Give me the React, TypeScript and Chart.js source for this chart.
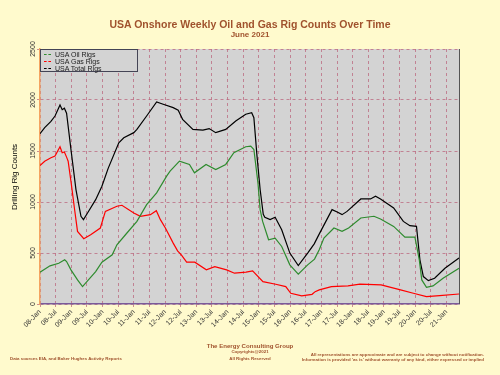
import React, { useEffect, useRef } from "react";
import { Chart, registerables } from "chart.js";
Chart.register(...registerables);

const xTickLabels = [
  "08-Jan", "08-Jul", "09-Jan", "09-Jul", "10-Jan", "10-Jul", "11-Jan", "11-Jul",
  "12-Jan", "12-Jul", "13-Jan", "13-Jul", "14-Jan", "14-Jul", "15-Jan", "15-Jul",
  "16-Jan", "16-Jul", "17-Jan", "17-Jul", "18-Jan", "18-Jul", "19-Jan", "19-Jul",
  "20-Jan", "20-Jul", "21-Jan",
];
const yTickValues = [0, 500, 1000, 1500, 2000, 2500];

const totalYears = [
  2008.0, 2008.15, 2008.35, 2008.48, 2008.64, 2008.71, 2008.78, 2008.85, 2008.99, 2009.15,
  2009.31, 2009.39, 2009.52, 2009.78, 2009.98, 2010.18, 2010.52, 2010.68, 2011.0, 2011.1,
  2011.41, 2011.73, 2011.94, 2012.26, 2012.42, 2012.56, 2012.89, 2013.21, 2013.41, 2013.62,
  2013.94, 2014.26, 2014.58, 2014.77, 2014.84, 2014.94, 2015.04, 2015.14, 2015.19, 2015.36,
  2015.52, 2015.73, 2015.99, 2016.26, 2016.56, 2016.77, 2016.92, 2017.34, 2017.52, 2017.66,
  2017.82, 2018.26, 2018.57, 2018.73, 2018.89, 2019.31, 2019.62, 2019.83, 2020.04, 2020.15,
  2020.26, 2020.42, 2020.62, 2020.95, 2021.4,
];
const totalRigs = [
  1670, 1730, 1790, 1843, 1951, 1905, 1920, 1870, 1515, 1122,
  860, 827, 892, 1023, 1154, 1330, 1581, 1630, 1680, 1712,
  1843, 1981, 1958, 1925, 1900, 1810, 1712, 1705, 1720, 1680,
  1712, 1794, 1860, 1876, 1827, 1450, 1122, 880, 850, 827,
  850, 728, 499, 377, 499, 590, 680, 925, 900, 876,
  908, 1030, 1030, 1056, 1030, 941, 810, 768, 761, 433,
  269, 229, 253, 351, 450,
];

const gasYears = [
  2008.0, 2008.15, 2008.35, 2008.48, 2008.64, 2008.71, 2008.78, 2008.85, 2008.9, 2009.0,
  2009.1, 2009.2, 2009.4, 2009.62, 2009.93, 2010.09, 2010.46, 2010.62, 2011.0, 2011.21,
  2011.53, 2011.72, 2011.85, 2012.01, 2012.26, 2012.4, 2012.52, 2012.69, 2012.95, 2013.32,
  2013.59, 2013.97, 2014.22, 2014.59, 2014.8, 2015.13, 2015.54, 2015.86, 2016.02, 2016.37,
  2016.7, 2016.8, 2016.93, 2017.32, 2017.85, 2018.23, 2018.91, 2019.53, 2019.94, 2020.36,
  2020.78, 2021.4,
];
const gasRigs = [
  1358, 1400, 1434, 1450, 1542, 1483, 1490, 1440, 1400, 1180,
  941, 712, 640, 679, 745, 908, 958, 968, 892, 860,
  876, 915, 827, 745, 597, 521, 482, 410, 410, 335,
  367, 335, 302, 312, 325, 219, 194, 171, 105, 79,
  95, 121, 138, 171, 177, 194, 187, 138, 105, 72,
  82, 98,
];

const oilYears = [
  2008.0, 2008.32, 2008.6, 2008.79, 2008.85, 2008.99, 2009.2, 2009.36, 2009.52, 2009.78,
  2009.98, 2010.31, 2010.46, 2010.78, 2011.1, 2011.41, 2011.73, 2012.05, 2012.16, 2012.46,
  2012.78, 2012.94, 2013.31, 2013.62, 2013.94, 2014.2, 2014.58, 2014.74, 2014.84, 2014.97,
  2015.04, 2015.12, 2015.31, 2015.52, 2015.73, 2015.99, 2016.26, 2016.56, 2016.78, 2016.93,
  2017.08, 2017.4, 2017.66, 2017.87, 2018.26, 2018.68, 2018.89, 2019.31, 2019.67, 2019.99,
  2020.13, 2020.21, 2020.36, 2020.57, 2020.89, 2021.4,
];
const oilRigs = [
  312, 374, 400, 433, 416, 335, 236, 171, 226, 318,
  410, 482, 581, 696, 810, 974, 1089, 1253, 1302, 1400,
  1368, 1286, 1368, 1319, 1368, 1483, 1542, 1548, 1515, 1188,
  925, 810, 630, 646, 564, 384, 292, 384, 440, 531,
  646, 745, 712, 745, 843, 860, 833, 761, 656, 656,
  433, 236, 164, 177, 253, 351,
];

const seriesNames = ["USA Oil Rigs", "USA Gas Rigs", "USA Total Rigs"];
const seriesColors = ["#2e8b2e", "#ff0000", "#000000"];

const BROWN = "#a0522d";
const GRID = "rgba(185,95,120,0.7)";

const frame = {
  id: "frame",
  beforeDraw(chart: any) {
    const { ctx, chartArea: a } = chart;
    ctx.save();
    ctx.fillStyle = "#d3d3d3";
    ctx.fillRect(a.left, a.top, a.right - a.left, a.bottom - a.top);
    ctx.restore();
  },
  afterDraw(chart: any) {
    const { ctx, chartArea: a } = chart;
    const ys = chart.scales.y;
    ctx.save();
    ctx.strokeStyle = "#555";
    ctx.lineWidth = 1;
    ctx.beginPath();
    ctx.moveTo(a.right + 0.5, a.top);
    ctx.lineTo(a.right + 0.5, a.bottom);
    ctx.stroke();
    ctx.fillStyle = "#333";
    ctx.font = "7px Arial";
    ctx.textAlign = "center";
    ctx.textBaseline = "middle";
    ys.ticks.forEach((t: any) => {
      const py = ys.getPixelForValue(t.value);
      ctx.save();
      ctx.translate(a.left - 7, py);
      ctx.rotate(-Math.PI / 2);
      ctx.fillText(String(t.value), 0, 0);
      ctx.restore();
    });
    ctx.restore();
  },
};

function toPoints(xs: number[], ys: number[]) {
  return xs.map((x, i) => ({ x, y: ys[i] }));
}

export default function App() {
  const ref = useRef<HTMLCanvasElement>(null);
  useEffect(() => {
    if (!ref.current) return;
    const tickValues = xTickLabels.map((_, i) => 2008 + i * 0.5);
    const chart = new Chart(ref.current, {
      type: "line",
      data: {
        datasets: [
          { label: seriesNames[0], data: toPoints(oilYears, oilRigs), borderColor: seriesColors[0] },
          { label: seriesNames[1], data: toPoints(gasYears, gasRigs), borderColor: seriesColors[1] },
          { label: seriesNames[2], data: toPoints(totalYears, totalRigs), borderColor: seriesColors[2] },
        ],
      },
      options: {
        animation: false,
        responsive: false,
        devicePixelRatio: 1,
        layout: { padding: { left: 0, top: 49, right: 41, bottom: 0 } },
        elements: { point: { radius: 0 }, line: { borderWidth: 1.2, tension: 0 } },
        plugins: { legend: { display: false }, tooltip: { enabled: false }, title: { display: false } },
        scales: {
          x: {
            type: "linear",
            min: 2008,
            max: 2021.4,
            afterBuildTicks: (s: any) => {
              s.ticks = tickValues.map((v) => ({ value: v }));
            },
            afterFit: (s: any) => {
              s.height = 71;
            },
            ticks: {
              autoSkip: false,
              minRotation: 45,
              maxRotation: 45,
              padding: 1,
              color: "#333",
              font: { size: 7, family: "Arial" },
              callback: (_v: any, i: number) => xTickLabels[i],
            },
            grid: { color: GRID, lineWidth: 1, tickLength: 3 },
            border: { display: true, color: "#7a5a9a", width: 1.5, dash: [3, 3] },
          },
          y: {
            min: 0,
            max: 2500,
            afterBuildTicks: (s: any) => {
              s.ticks = yTickValues.map((v) => ({ value: v }));
            },
            afterFit: (s: any) => {
              s.width = 40;
            },
            ticks: { display: false },
            grid: { color: GRID, lineWidth: 1, tickLength: 3 },
            border: { display: true, color: "#f4a460", width: 1.5, dash: [3, 3] },
          },
        },
      },
      plugins: [frame],
    });
    return () => chart.destroy();
  }, []);

  const txt = (
    content: string,
    top: number,
    size: number,
    opts: any = {}
  ) => (
    <div
      style={{
        position: "absolute",
        top: top - size / 2,
        left: 0,
        width: 500,
        textAlign: "center",
        fontFamily: "Arial, 'Liberation Sans', sans-serif",
        fontSize: size,
        lineHeight: `${size}px`,
        fontWeight: "bold",
        color: BROWN,
        whiteSpace: "nowrap",
        ...opts,
      }}
    >
      {content}
    </div>
  );

  return (
    <div
      style={{
        position: "fixed",
        left: 0,
        top: 0,
        width: 500,
        height: 375,
        background: "#fffacd",
        overflow: "hidden",
      }}
    >
      <canvas ref={ref} width={500} height={375} style={{ position: "absolute", left: 0, top: 0 }} />
      {txt("USA Onshore Weekly Oil and Gas Rig Counts Over Time", 24, 10.5)}
      {txt("June 2021", 35, 8)}
      <div
        style={{
          position: "absolute",
          left: 15 - 60,
          top: 177 - 5,
          width: 120,
          height: 10,
          lineHeight: "10px",
          textAlign: "center",
          transform: "rotate(-90deg)",
          fontFamily: "Arial, 'Liberation Sans', sans-serif",
          fontSize: 8,
          color: "#000",
          whiteSpace: "nowrap",
        }}
      >
        Drilling Rig Counts
      </div>
      <div
        style={{
          position: "absolute",
          left: 40,
          top: 49,
          width: 98,
          height: 23,
          boxSizing: "border-box",
          background: "#d3d3d3",
          border: "1px solid #445",
          fontFamily: "Arial, 'Liberation Sans', sans-serif",
          fontSize: 7,
          color: "#222",
          paddingTop: 1,
        }}
      >
        {seriesNames.map((n, i) => (
          <div key={n} style={{ display: "flex", alignItems: "center", height: 7, lineHeight: "7px" }}>
            <span
              style={{
                display: "inline-block",
                width: 7,
                marginLeft: 3,
                marginRight: 4,
                borderTop: `1px dashed ${seriesColors[i]}`,
              }}
            />
            <span>{n}</span>
          </div>
        ))}
      </div>
      {txt("The Energy Consulting Group", 346, 6.1)}
      {txt("Copyrights@2021", 352.5, 4.4)}
      {txt("All Rights Reserved", 359.5, 4.4)}
      {txt("Data sources EIA, and Baker Hughes Activity Reports", 359.5, 4.4, {
        left: 10,
        width: "auto",
        textAlign: "left",
      })}
      {txt("All representations are approximate and are subject to change without notification.", 355, 4.4, {
        left: "auto",
        right: 16,
        width: "auto",
        textAlign: "right",
      })}
      {txt("Information is provided 'as is' without warranty of any kind, either expressed or implied", 359.8, 4.4, {
        left: "auto",
        right: 16,
        width: "auto",
        textAlign: "right",
      })}
    </div>
  );
}
